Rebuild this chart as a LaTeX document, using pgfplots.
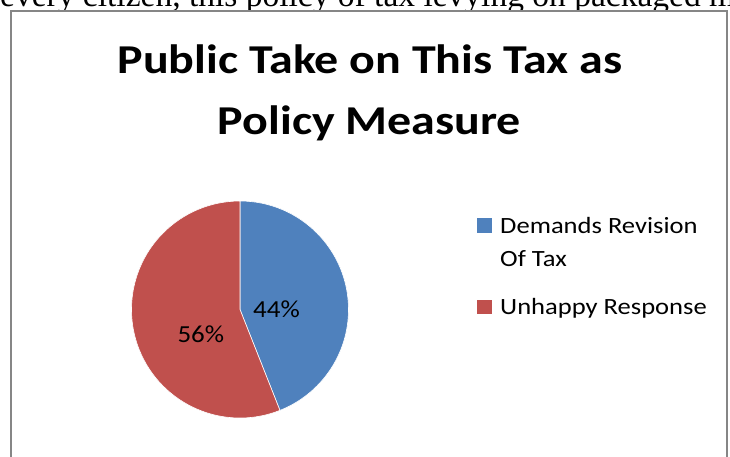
\documentclass[border=0pt]{standalone}
\usepackage{pgfplots}
\pgfplotsset{compat=1.18}
\usepackage{pgfplotstable}
\usepackage{fontspec}
\setmainfont{Carlito}
\newfontfamily\timesfont{Liberation Serif}
\definecolor{pieblue}{HTML}{4F81BD}
\definecolor{piered}{HTML}{C0504D}
\definecolor{framegray}{HTML}{868686}

\pgfplotstableread{
label value
Demands 44
Unhappy 56
}\piedata

\begin{document}
\begin{tikzpicture}[x=1pt,y=1pt]
\path[use as bounding box] (0,0) rectangle (730,456);
\pgfplotstablegetelem{0}{value}\of\piedata \let\va\pgfplotsretval
\pgfplotstablegetelem{1}{value}\of\piedata \let\vb\pgfplotsretval
\pgfmathsetmacro\angA{90-3.6*\va}
\pgfmathsetmacro\angB{\angA-3.6*\vb}
\begin{scope}
\clip (0,0) rectangle (730,456);
\node[anchor=base west, font=\timesfont\fontsize{33.5}{40}\selectfont, inner sep=0] at (0,449) {every citizen, this policy of tax levying on packaged milk};
\filldraw[fill=white, draw=framegray, line width=1.5pt] (11,445) rectangle (727,-10);
\end{scope}
\node[anchor=base, font=\bfseries\fontsize{41}{48}\selectfont, inner sep=0, xscale=1.17] at (370,382) {Public Take on This Tax as};
\node[anchor=base, font=\bfseries\fontsize{41}{48}\selectfont, inner sep=0, xscale=1.17] at (369.5,321) {Policy Measure};
\begin{axis}[at={(240pt,146.5pt)}, anchor=origin, x=1pt, y=1pt, hide axis,
  xmin=-110, xmax=110, ymin=-110, ymax=110, clip=false]
\filldraw[fill=pieblue, draw=white, line width=0.6pt] (axis cs:0,0) -- +(90:108.5pt) arc[start angle=90, end angle=\angA, radius=108.5pt] -- cycle;
\filldraw[fill=piered, draw=white, line width=0.6pt] (axis cs:0,0) -- +(\angA:108.5pt) arc[start angle=\angA, end angle=\angB, radius=108.5pt] -- cycle;
\node[font=\fontsize{24.5}{28}\selectfont, inner sep=0, xscale=1.1] at (axis cs:36.5,0.5) {\va\%};
\node[font=\fontsize{24.5}{28}\selectfont, inner sep=0, xscale=1.1] at (axis cs:-39.2,-24.5) {\vb\%};
\end{axis}
\fill[pieblue] (477.3,222.7) rectangle (491.7,237.7);
\fill[piered] (477.3,142) rectangle (491.7,156.5);
\node[anchor=base west, font=\fontsize{23.3}{26}\selectfont, inner sep=0, xscale=1.14] at (500,222.7) {Demands Revision};
\node[anchor=base west, font=\fontsize{23.3}{26}\selectfont, inner sep=0, xscale=1.14] at (500,189.3) {Of Tax};
\node[anchor=base west, font=\fontsize{23.3}{26}\selectfont, inner sep=0, xscale=1.14] at (500,142) {Unhappy Response};
\end{tikzpicture}
\end{document}
